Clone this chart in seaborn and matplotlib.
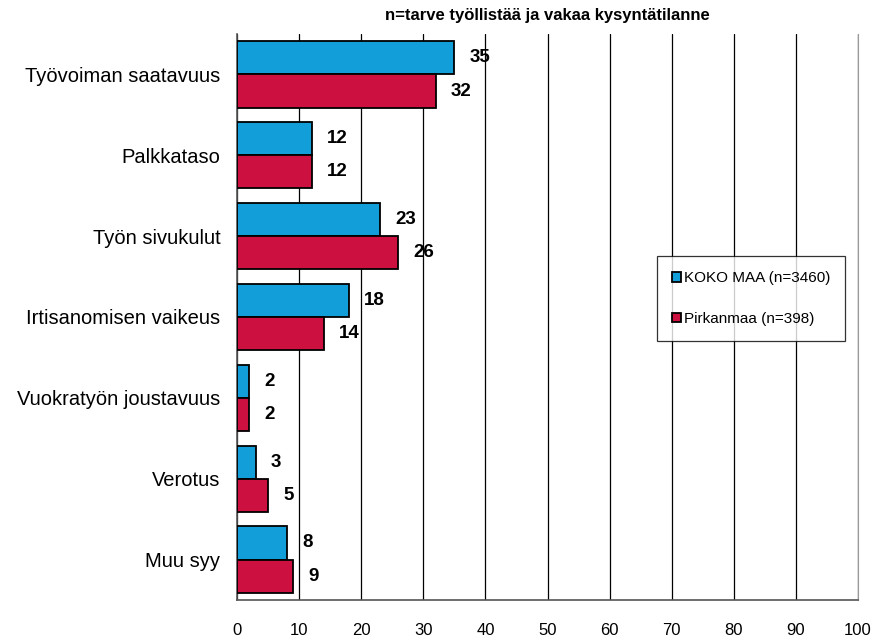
import pandas as pd
import seaborn as sns
import matplotlib.pyplot as plt
from matplotlib.ticker import MultipleLocator, FixedLocator

categories = ["Työvoiman saatavuus", "Palkkataso", "Työn sivukulut",
              "Irtisanomisen vaikeus", "Vuokratyön joustavuus", "Verotus", "Muu syy"]
koko_maa = [35, 12, 23, 18, 2, 3, 8]
pirkanmaa = [32, 12, 26, 14, 2, 5, 9]
series = ["KOKO MAA (n=3460)", "Pirkanmaa (n=398)"]
colors = ["#129FD9", "#CC1040"]
title = "n=tarve työllistää ja vakaa kysyntätilanne"

df = pd.DataFrame({
    "cat": categories * 2,
    "val": koko_maa + pirkanmaa,
    "series": [series[0]] * len(categories) + [series[1]] * len(categories),
})

sns.set_style("white")
plt.rcParams['font.family'] = ['Liberation Sans', 'DejaVu Sans']
plt.rcParams['text.color'] = 'black'
plt.rcParams['xtick.color'] = 'black'
plt.rcParams['ytick.color'] = 'black'

fig = plt.figure(figsize=(8.77, 6.4), dpi=100)
ax = fig.add_axes([237 / 877, 1 - 600 / 640, (858 - 237) / 877, (600 - 34) / 640])

sns.barplot(data=df, y="cat", x="val", hue="series", palette=colors, orient="h",
            saturation=1, width=0.82, edgecolor="black", linewidth=1.3, ax=ax, zorder=3)

ax.set_xlim(0, 100)
ax.set_ylim(len(categories) - 0.5, -0.5)
ax.xaxis.set_major_locator(MultipleLocator(10))
ax.grid(axis="x", color="black", linewidth=0.9, zorder=0)
ax.set_axisbelow(True)
ax.set_xlabel("")
ax.set_ylabel("")
ax.set_title(title, fontsize=12, fontweight="bold", pad=10)

ax.spines["top"].set_visible(False)
ax.spines["right"].set_color("#999999")
for side in ["left", "bottom"]:
    ax.spines[side].set_color("#555555")
    ax.spines[side].set_linewidth(1.2)

ax.tick_params(axis="x", labelsize=12, length=5, direction="inout", pad=14)
ax.tick_params(axis="y", which="major", length=0, labelsize=14.5, pad=12)
ax.yaxis.set_minor_locator(FixedLocator([i + 0.5 for i in range(-1, len(categories))]))
ax.tick_params(axis="y", which="minor", length=5)

for cont in ax.containers:
    ax.bar_label(cont, padding=11, fontsize=13.5, fontweight="bold")

leg = ax.legend(loc="upper left", bbox_to_anchor=((657 - 237) / 621, 1 - (256 - 34) / 566),
                frameon=True, fancybox=False, fontsize=11, handlelength=0.6, handleheight=0.6,
                handletextpad=0.15, labelspacing=1.75, borderpad=1.0, borderaxespad=0)
leg.get_frame().set_edgecolor("black")
leg.get_frame().set_linewidth(0.9)

fig.savefig("out.png", dpi=100)
